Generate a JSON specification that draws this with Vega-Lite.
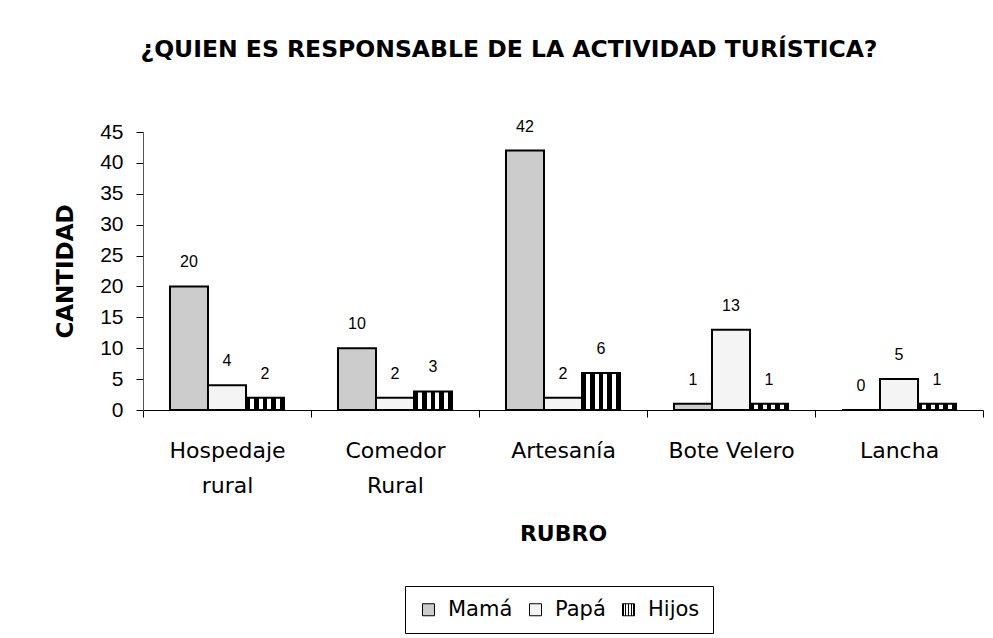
{
  "$schema": "https://vega.github.io/schema/vega-lite/v6.json",
  "width": 840,
  "height": 278,
  "autosize": {"type": "none"},
  "padding": {"left": 143, "top": 132, "right": 10, "bottom": 228},
  "background": "white",
  "config": {
    "font": "DejaVu Sans",
    "view": {"stroke": null}
  },
  "title": {
    "text": "¿QUIEN ES RESPONSABLE DE LA ACTIVIDAD TURÍSTICA?",
    "fontSize": 23.5,
    "fontWeight": "bold",
    "font": "DejaVu Sans",
    "color": "black",
    "anchor": "middle",
    "baseline": "alphabetic",
    "dx": -54,
    "offset": 38
  },
  "data": {
    "values": [
      {"rubro": "Hospedaje rural", "quien": "Mamá", "cantidad": 20},
      {"rubro": "Hospedaje rural", "quien": "Papá", "cantidad": 4},
      {"rubro": "Hospedaje rural", "quien": "Hijos", "cantidad": 2},
      {"rubro": "Comedor Rural", "quien": "Mamá", "cantidad": 10},
      {"rubro": "Comedor Rural", "quien": "Papá", "cantidad": 2},
      {"rubro": "Comedor Rural", "quien": "Hijos", "cantidad": 3},
      {"rubro": "Artesanía", "quien": "Mamá", "cantidad": 42},
      {"rubro": "Artesanía", "quien": "Papá", "cantidad": 2},
      {"rubro": "Artesanía", "quien": "Hijos", "cantidad": 6},
      {"rubro": "Bote Velero", "quien": "Mamá", "cantidad": 1},
      {"rubro": "Bote Velero", "quien": "Papá", "cantidad": 13},
      {"rubro": "Bote Velero", "quien": "Hijos", "cantidad": 1},
      {"rubro": "Lancha", "quien": "Mamá", "cantidad": 0},
      {"rubro": "Lancha", "quien": "Papá", "cantidad": 5},
      {"rubro": "Lancha", "quien": "Hijos", "cantidad": 1}
    ]
  },
  "encoding": {
    "x": {
      "field": "rubro",
      "type": "nominal",
      "sort": ["Hospedaje rural", "Comedor Rural", "Artesanía", "Bote Velero", "Lancha"],
      "scale": {"paddingInner": 0, "paddingOuter": 0},
      "axis": {
        "title": "RUBRO",
        "titleFont": "DejaVu Sans",
        "titleFontSize": 22,
        "titleFontWeight": "bold",
        "titleColor": "black",
        "titlePadding": 27,
        "labelFont": "DejaVu Sans",
        "labelFontSize": 22,
        "labelColor": "black",
        "labelAngle": 0,
        "labelPadding": 23,
        "labelLineHeight": 35,
        "labelExpr": "indexof(['Hospedaje rural','Comedor Rural'], datum.label) >= 0 ? split(datum.label, ' ') : datum.label",
        "tickBand": "extent",
        "tickSize": 7,
        "tickColor": "black",
        "domainColor": "black",
        "grid": false
      }
    },
    "xOffset": {
      "field": "quien",
      "type": "nominal",
      "sort": ["Mamá", "Papá", "Hijos"],
      "scale": {"paddingInner": 0, "paddingOuter": 0.71}
    },
    "y": {
      "field": "cantidad",
      "type": "quantitative",
      "scale": {"domain": [0, 45], "nice": false},
      "axis": {
        "title": "CANTIDAD",
        "titleFont": "DejaVu Sans",
        "titleFontSize": 23,
        "titleFontWeight": "bold",
        "titleColor": "black",
        "titlePadding": 22,
        "values": [0, 5, 10, 15, 20, 25, 30, 35, 40, 45],
        "labelFont": "Liberation Sans",
        "labelFontSize": 21,
        "labelColor": "black",
        "labelPadding": 13,
        "tickSize": 7,
        "tickColor": "black",
        "domainColor": "#555555",
        "grid": false
      }
    }
  },
  "layer": [
    {
      "mark": {"type": "bar", "stroke": "black", "strokeWidth": 2},
      "encoding": {
        "color": {
          "field": "quien",
          "type": "nominal",
          "sort": ["Mamá", "Papá", "Hijos"],
          "scale": {
            "domain": ["Mamá", "Papá", "Hijos"],
            "range": [
              "#cccccc",
              "#f4f4f4",
              {"expr": "{gradient:'linear',x1:0,y1:0,x2:1,y2:0,stops:[{offset:0,color:'black'},{offset:0.111,color:'black'},{offset:0.111,color:'white'},{offset:0.222,color:'white'},{offset:0.222,color:'black'},{offset:0.333,color:'black'},{offset:0.333,color:'white'},{offset:0.444,color:'white'},{offset:0.444,color:'black'},{offset:0.556,color:'black'},{offset:0.556,color:'white'},{offset:0.667,color:'white'},{offset:0.667,color:'black'},{offset:0.778,color:'black'},{offset:0.778,color:'white'},{offset:0.889,color:'white'},{offset:0.889,color:'black'},{offset:1,color:'black'}]}"}
            ]
          },
          "legend": {
            "title": null,
            "orient": "none",
            "legendX": 262,
            "legendY": 454,
            "direction": "horizontal",
            "strokeColor": "black",
            "padding": 13,
            "labelFont": "DejaVu Sans",
            "labelFontSize": 21,
            "labelColor": "black",
            "labelOffset": 9,
            "columnPadding": 12,
            "symbolType": "square",
            "symbolSize": 144,
            "symbolStrokeColor": "black",
            "symbolStrokeWidth": 1
          }
        }
      }
    },
    {
      "mark": {"type": "text", "dy": -24, "fontSize": 16, "baseline": "middle", "color": "black", "font": "Liberation Sans"},
      "encoding": {"text": {"field": "cantidad", "type": "quantitative"}}
    }
  ]
}
